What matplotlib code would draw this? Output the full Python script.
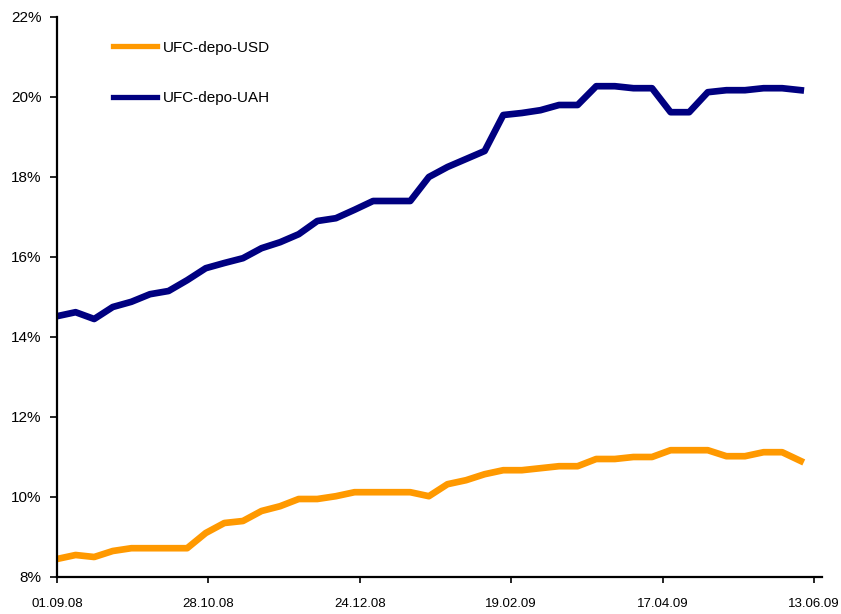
import pandas as pd
import matplotlib
matplotlib.use("Agg")
import matplotlib.pyplot as plt
import matplotlib.dates as mdates

plt.rcParams['font.family'] = ['Liberation Sans', 'DejaVu Sans']

dates = pd.date_range("2008-09-01", periods=41, freq="7D")

depo_usd = [8.45, 8.55, 8.50, 8.65, 8.72, 8.72, 8.72, 8.72, 9.10, 9.35,
            9.40, 9.65, 9.77, 9.95, 9.95, 10.02, 10.12, 10.12, 10.12, 10.12,
            10.02, 10.32, 10.42, 10.57, 10.67, 10.67, 10.72, 10.77, 10.77, 10.95,
            10.95, 11.00, 11.00, 11.17, 11.17, 11.17, 11.02, 11.02, 11.12, 11.12,
            10.90]
depo_uah = [14.52, 14.62, 14.45, 14.75, 14.88, 15.07, 15.15, 15.42, 15.72, 15.85,
            15.97, 16.22, 16.37, 16.57, 16.90, 16.97, 17.18, 17.40, 17.40, 17.40,
            18.00, 18.25, 18.45, 18.65, 19.55, 19.60, 19.67, 19.80, 19.80, 20.27,
            20.27, 20.22, 20.22, 19.62, 19.62, 20.12, 20.17, 20.17, 20.22, 20.22,
            20.17]

tick_dates = pd.to_datetime(["2008-09-01", "2008-10-28", "2008-12-24",
                             "2009-02-19", "2009-04-17", "2009-06-13"])
y_ticks = [8, 10, 12, 14, 16, 18, 20, 22]

fig = plt.figure(figsize=(8.41, 6.14), dpi=100)
ax = fig.add_axes([57 / 841, 37 / 614, 765 / 841, 560 / 614])

ax.plot(dates, depo_usd, color="#FF9900", lw=4.8, label="UFC-depo-USD")
ax.plot(dates, depo_uah, color="#000080", lw=4.8, label="UFC-depo-UAH")

ax.set_xlim(pd.Timestamp("2008-09-01"), pd.Timestamp("2009-06-16"))
ax.set_ylim(8, 22)
ax.set_xticks(tick_dates)
ax.xaxis.set_major_formatter(mdates.DateFormatter("%d.%m.%y"))
ax.set_yticks(y_ticks)
ax.set_yticklabels([f"{v}%" for v in y_ticks])

for s in ["top", "right"]:
    ax.spines[s].set_visible(False)
for s in ["left", "bottom"]:
    ax.spines[s].set_linewidth(1.6)
ax.tick_params(axis="y", direction="out", length=5, width=1.2, labelsize=11, pad=6)
ax.tick_params(axis="x", direction="out", length=4, width=1.2, labelsize=9.5, pad=11)

leg = ax.legend(loc="upper left", bbox_to_anchor=(0.073, 0.958), frameon=False,
                fontsize=11, handlelength=2.9, handletextpad=0.35, labelspacing=2.4,
                borderpad=0, borderaxespad=0)
for h in leg.get_lines():
    h.set_linewidth(3.8)

fig.savefig("out.png", dpi=100)
